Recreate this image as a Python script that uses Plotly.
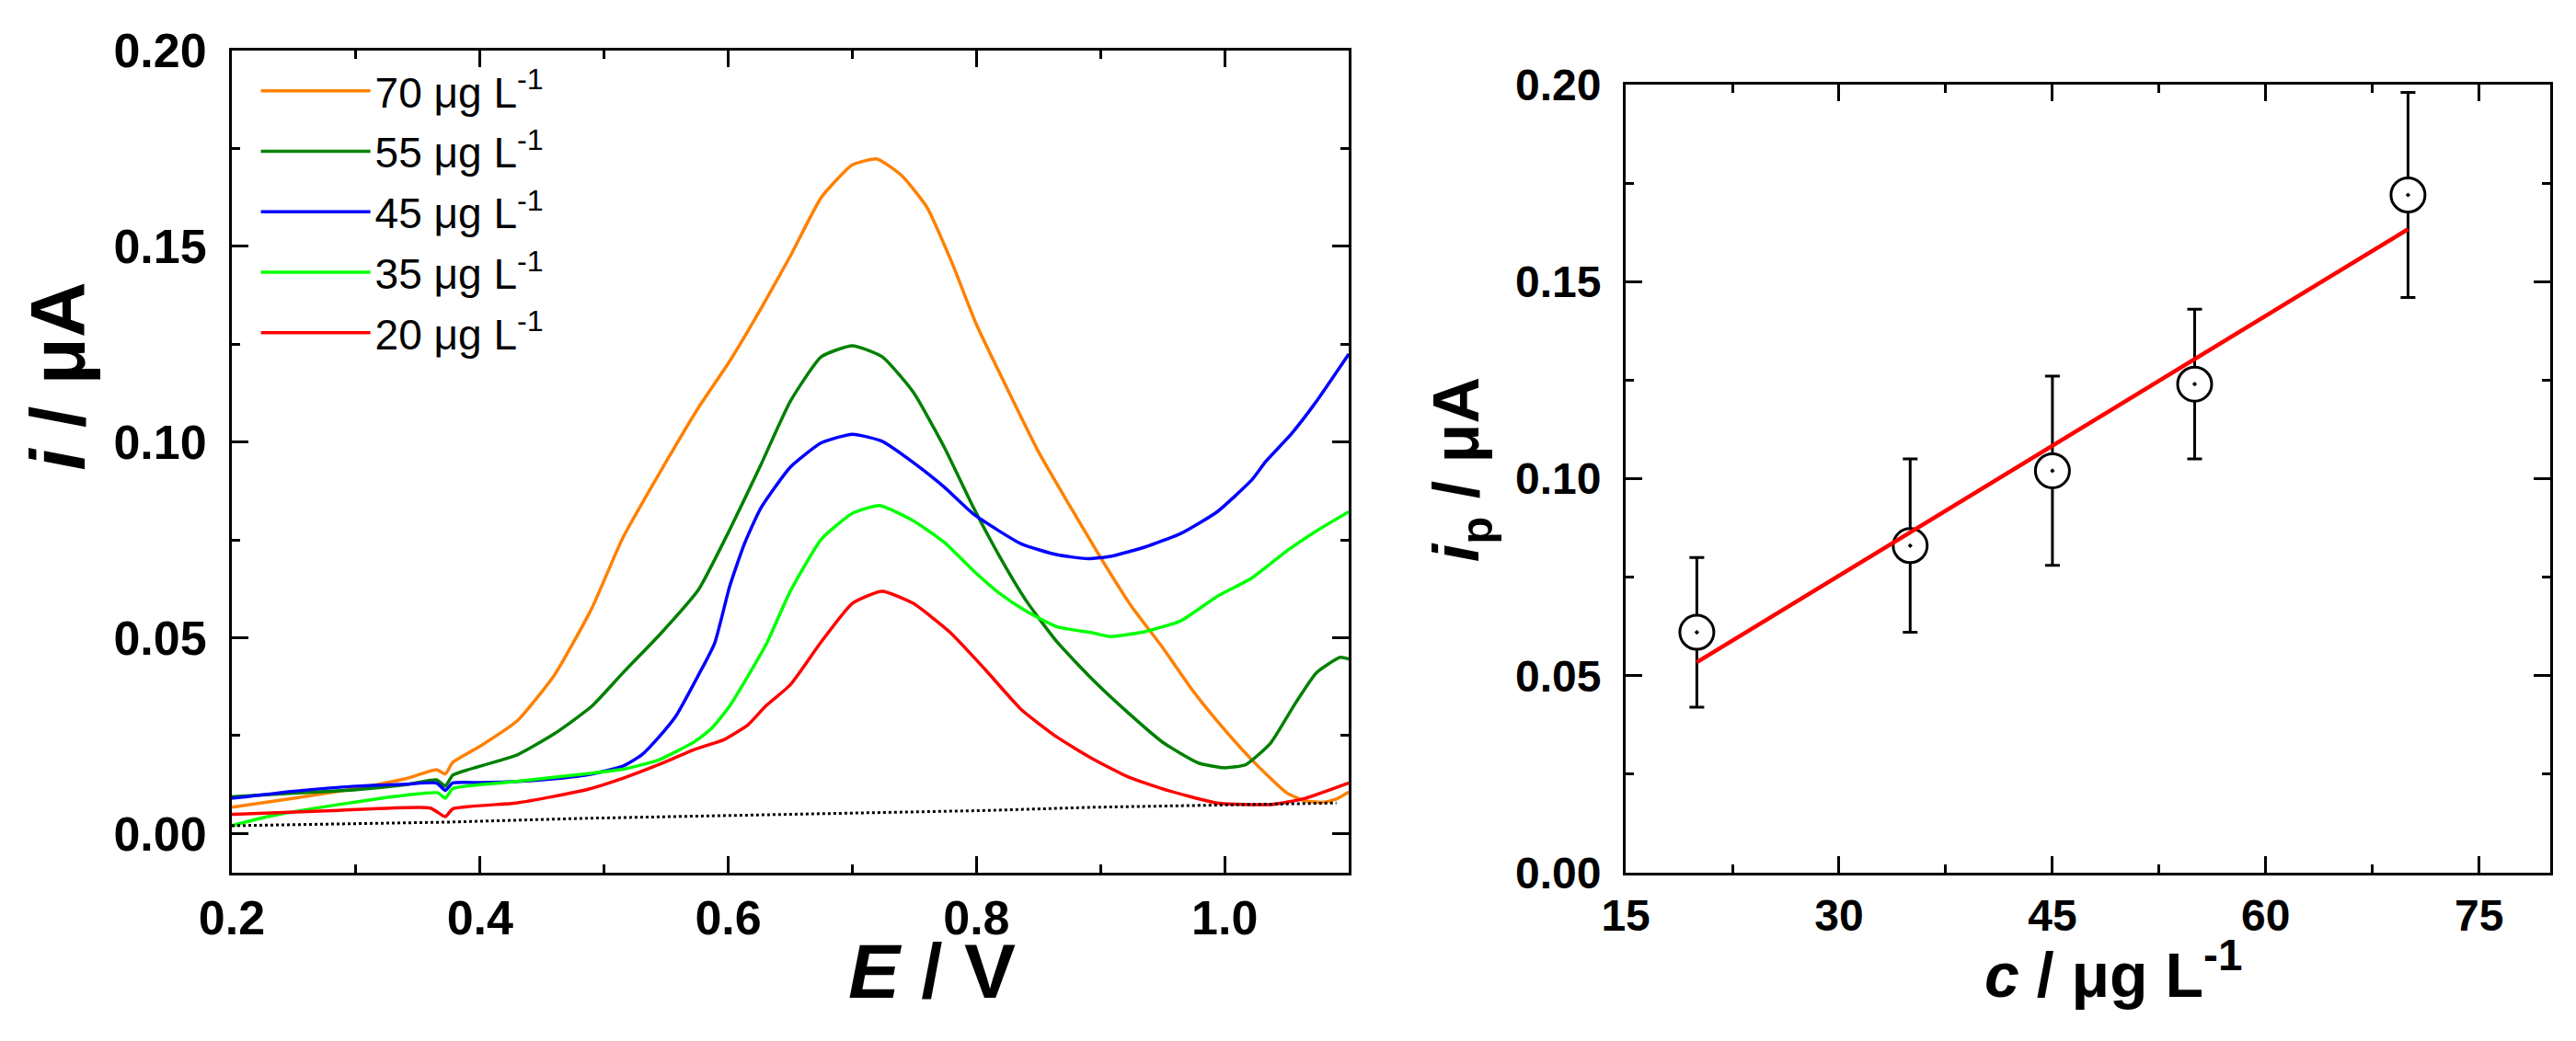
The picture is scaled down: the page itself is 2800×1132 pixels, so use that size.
import plotly.graph_objects as go

# DPV curves (E in V, i in uA)
e_70 = [0.20, 0.25, 0.30, 0.34, 0.365, 0.372, 0.378, 0.40, 0.43, 0.46, 0.49, 0.515, 0.55, 0.576,
        0.601, 0.626, 0.65, 0.675, 0.70, 0.72, 0.74, 0.76, 0.78, 0.80, 0.825, 0.85, 0.875, 0.90,
        0.925, 0.95, 0.975, 1.00, 1.025, 1.05, 1.065, 1.08, 1.09, 1.10]
i_70 = [0.0067, 0.0090, 0.0115, 0.0140, 0.0163, 0.0152, 0.0182, 0.0223, 0.0288, 0.0405, 0.0575, 0.0755,
        0.0950, 0.1088, 0.1206, 0.1339, 0.1475, 0.1625, 0.1708, 0.1723, 0.1680, 0.1600, 0.1460, 0.1300,
        0.1135, 0.0975, 0.0838, 0.0705, 0.0580, 0.0475, 0.0362, 0.0265, 0.0178, 0.0104, 0.0083, 0.0080,
        0.0088, 0.0106]

e_55 = [0.20, 0.25, 0.30, 0.34, 0.365, 0.372, 0.378, 0.40, 0.43, 0.46, 0.49, 0.515, 0.545, 0.576,
        0.601, 0.626, 0.65, 0.675, 0.70, 0.724, 0.749, 0.774, 0.798, 0.82, 0.84, 0.865,
        0.893, 0.922, 0.951, 0.979, 1.00, 1.017, 1.037, 1.057, 1.074, 1.093, 1.10]
i_55 = [0.0094, 0.0103, 0.0112, 0.0125, 0.0137, 0.0121, 0.0149, 0.0172, 0.0201, 0.0255, 0.0325, 0.0410,
        0.0509, 0.0623, 0.0775, 0.0940, 0.1104, 0.1218, 0.1246, 0.1218, 0.1128, 0.0987, 0.0830, 0.0700,
        0.0595, 0.0489, 0.0395, 0.0309, 0.0231, 0.0180, 0.0168, 0.0176, 0.0231, 0.0333, 0.0411, 0.0450,
        0.0446]

e_45 = [0.20, 0.25, 0.30, 0.34, 0.365, 0.372, 0.378, 0.40, 0.43, 0.46, 0.49, 0.515, 0.53, 0.544,
        0.558, 0.573, 0.589, 0.601, 0.613, 0.626, 0.65, 0.675, 0.70, 0.724, 0.749, 0.774, 0.798,
        0.836, 0.865, 0.89, 0.908, 0.936, 0.965, 0.994, 1.022, 1.033, 1.054, 1.073, 1.10]
i_45 = [0.0090, 0.0108, 0.0121, 0.0126, 0.0129, 0.0110, 0.0129, 0.0130, 0.0133, 0.0140, 0.0152, 0.0172,
        0.0200, 0.0246, 0.0301, 0.0387, 0.0486, 0.0630, 0.0740, 0.0830, 0.0936, 0.0998, 0.1020, 0.1002,
        0.0948, 0.0885, 0.0815, 0.0740, 0.0712, 0.0702, 0.0708, 0.0732, 0.0767, 0.0822, 0.0904, 0.0950,
        0.1022, 0.1100, 0.1225]

e_35 = [0.20, 0.229, 0.286, 0.34, 0.366, 0.372, 0.378, 0.429, 0.487, 0.515, 0.544, 0.573, 0.587,
        0.601, 0.616, 0.631, 0.65, 0.675, 0.70, 0.722, 0.749, 0.774, 0.798, 0.82, 0.84, 0.865, 0.893,
        0.908, 0.936, 0.965, 0.994, 1.022, 1.051, 1.075, 1.10]
i_35 = [0.0020, 0.0043, 0.0074, 0.0098, 0.0104, 0.0090, 0.0115, 0.0133, 0.0153, 0.0164, 0.0188, 0.0235,
        0.0270, 0.0325, 0.0403, 0.0486, 0.0619, 0.0752, 0.0818, 0.0838, 0.0799, 0.0744, 0.0670, 0.0610,
        0.0568, 0.0528, 0.0513, 0.0503, 0.0516, 0.0544, 0.0606, 0.0653, 0.0724, 0.0775, 0.0822]

e_20 = [0.20, 0.286, 0.36, 0.372, 0.378, 0.429, 0.458, 0.487, 0.515, 0.544, 0.573, 0.596, 0.616,
        0.63, 0.65, 0.675, 0.70, 0.724, 0.749, 0.779, 0.807, 0.836, 0.865, 0.893, 0.922, 0.951, 0.994,
        1.037, 1.065, 1.10]
i_20 = [0.0049, 0.0059, 0.0065, 0.0043, 0.0063, 0.0078, 0.0094, 0.0113, 0.0141, 0.0176, 0.0215, 0.0239,
        0.0278, 0.0325, 0.0380, 0.0490, 0.0588, 0.0619, 0.0588, 0.0513, 0.0419, 0.0317, 0.0246, 0.0192,
        0.0145, 0.0113, 0.0078, 0.0074, 0.0090, 0.0129]

# blank (dotted)
e_blank = [0.20, 0.372, 0.487, 0.65, 0.81, 0.893, 0.994, 1.09]
i_blank = [0.0020, 0.0029, 0.0039, 0.0049, 0.0059, 0.0067, 0.0073, 0.0078]

labels = ["70 μg L<sup>-1</sup>", "55 μg L<sup>-1</sup>", "45 μg L<sup>-1</sup>",
          "35 μg L<sup>-1</sup>", "20 μg L<sup>-1</sup>"]
colors = ["#FF8000", "#008000", "#0000FF", "#00FF00", "#FF0000"]

# calibration
conc = [20, 35, 45, 55, 70]
ip = [0.061, 0.083, 0.102, 0.124, 0.172]
err_plus = [0.019, 0.022, 0.024, 0.019, 0.026]
err_minus = [0.019, 0.022, 0.024, 0.019, 0.026]
fit_x = [20, 70]
fit_y = [0.0534, 0.1633]

FONT = "Liberation Sans, Arial, sans-serif"

fig = go.Figure()

curves = [(e_70, i_70), (e_55, i_55), (e_45, i_45), (e_35, i_35), (e_20, i_20)]
for (e, i), name, col in zip(curves, labels, colors):
    fig.add_trace(go.Scatter(x=e, y=i, mode="lines", name=name, legendgroup=name,
                             line=dict(color=col, width=3.5, shape="spline", smoothing=0.5)))

fig.add_trace(go.Scatter(x=e_blank, y=i_blank, mode="lines", showlegend=False,
                         line=dict(color="black", width=3, dash="dot")))

fig.add_trace(go.Scatter(x=conc, y=ip, mode="markers", showlegend=False, xaxis="x2", yaxis="y2",
                         marker=dict(symbol="circle-dot", size=37, color="white",
                                     line=dict(color="black", width=3)),
                         error_y=dict(type="data", symmetric=False, array=err_plus,
                                      arrayminus=err_minus, color="black", thickness=3, width=8)))
fig.add_trace(go.Scatter(x=fit_x, y=fit_y, mode="lines", showlegend=False, xaxis="x2", yaxis="y2",
                         line=dict(color="#FF0000", width=4.5)))

axis_common = dict(showline=True, linecolor="black", linewidth=3, mirror="ticks", ticks="inside",
                   ticklen=18, tickwidth=3, tickcolor="black", showgrid=False, zeroline=False,
                   automargin=False)

fig.update_layout(
    width=2800, height=1132,
    margin=dict(l=0, r=0, t=0, b=0, autoexpand=False),
    paper_bgcolor="white", plot_bgcolor="white",
    font=dict(family=FONT, color="black"),
    xaxis=dict(axis_common, domain=[0.09, 0.5236], range=[0.2, 1.1], tick0=0.2, dtick=0.2,
               tickformat=".1f", tickfont=dict(size=52, weight="bold"), ticklabelstandoff=2,
               minor=dict(dtick=0.1, ticks="inside", ticklen=9, tickwidth=3, tickcolor="black")),
    yaxis=dict(axis_common, domain=[0.1617, 0.9514], range=[-0.01, 0.20], tick0=0, dtick=0.05,
               tickformat=".2f", tickfont=dict(size=52, weight="bold"), ticklabelstandoff=14,
               minor=dict(dtick=0.025, ticks="inside", ticklen=9, tickwidth=3, tickcolor="black")),
    xaxis2=dict(axis_common, anchor="y2", domain=[0.6311, 0.99], range=[15, 80], tick0=15, dtick=15,
                tickfont=dict(size=48, weight="bold"), ticklabelstandoff=2,
                minor=dict(dtick=7.5, ticks="inside", ticklen=9, tickwidth=3, tickcolor="black")),
    yaxis2=dict(axis_common, anchor="x2", domain=[0.1617, 0.9187], range=[0, 0.20], tick0=0, dtick=0.05,
                tickformat=".2f", tickfont=dict(size=48, weight="bold"), ticklabelstandoff=14,
                minor=dict(dtick=0.025, ticks="inside", ticklen=9, tickwidth=3, tickcolor="black")),
    legend=dict(x=0.0995, y=0.945, xanchor="left", yanchor="top", bgcolor="rgba(0,0,0,0)",
                font=dict(size=46, family=FONT), itemwidth=119, tracegroupgap=3),
    annotations=[
        dict(text="<b><i>i</i> / μA</b>", xref="paper", yref="paper", x=0.0225, y=0.638,
             xanchor="center", yanchor="middle", textangle=-90, showarrow=False,
             font=dict(size=84, family=FONT)),
        dict(text="<b><i>E</i> / V</b>", xref="paper", yref="paper", x=0.3618, y=0.067,
             xanchor="center", yanchor="middle", showarrow=False, font=dict(size=84, family=FONT)),
        dict(text="<b><i>i</i><sub>p</sub> / μA</b>", xref="paper", yref="paper", x=0.567, y=0.549,
             xanchor="center", yanchor="middle", textangle=-90, showarrow=False,
             font=dict(size=70, family=FONT)),
        dict(text="<b><i>c</i> / μg L<sup>-1</sup></b>", xref="paper", yref="paper", x=0.8204, y=0.068,
             xanchor="center", yanchor="middle", showarrow=False, font=dict(size=68, family=FONT)),
    ],
)

fig.write_html("out.html", config={"displayModeBar": False},
               post_script="document.body.style.margin='0';")
